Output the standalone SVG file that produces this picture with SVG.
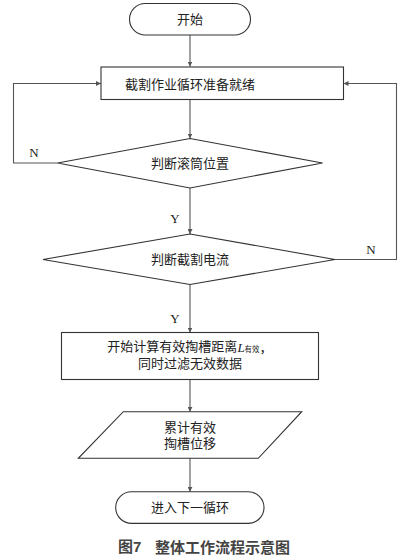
<svg xmlns="http://www.w3.org/2000/svg" width="409" height="560" viewBox="0 0 409 560">
<style>
.s{fill:#fff;stroke:#333;stroke-width:1.1}
.c{fill:none;stroke:#555;stroke-width:1.1}
.t{font-family:"Liberation Serif","Noto Sans CJK SC",serif;font-size:13px;fill:#222;text-anchor:middle;dominant-baseline:central}
.l{font-family:"Liberation Serif",serif;font-size:13px;fill:#222;text-anchor:middle;dominant-baseline:central}
.cap{font-family:"Liberation Sans","Noto Sans CJK SC",sans-serif;font-size:15px;font-weight:bold;fill:#444;dominant-baseline:central}
</style>
<defs>
<marker id="a" viewBox="0 0 6 6" refX="6" refY="3" markerWidth="5" markerHeight="5" markerUnits="userSpaceOnUse" orient="auto">
<path d="M0,0 L6,3 L0,6 Z" fill="#555"/>
</marker>
</defs>
<rect width="409" height="560" fill="#fff"/>
<g id="connectors">
<line class="c" x1="190" y1="35" x2="190" y2="66.5" marker-end="url(#a)"/>
<line class="c" x1="190" y1="99.5" x2="190" y2="138.5" marker-end="url(#a)"/>
<polyline class="c" points="57.5,163 13.5,163 13.5,83.5 101,83.5" marker-end="url(#a)"/>
<line class="c" x1="190" y1="188" x2="190" y2="234" marker-end="url(#a)"/>
<polyline class="c" points="335,259.5 396.5,259.5 396.5,83.5 343.5,83.5" marker-end="url(#a)"/>
<line class="c" x1="190" y1="284.5" x2="190" y2="332.5" marker-end="url(#a)"/>
<line class="c" x1="190" y1="379.5" x2="190" y2="411.7" marker-end="url(#a)"/>
<line class="c" x1="190" y1="458.3" x2="190" y2="491.7" marker-end="url(#a)"/>
<text class="l" x="34" y="152">N</text>
<text class="l" x="175" y="218">Y</text>
<text class="l" x="371" y="249">N</text>
<text class="l" x="175" y="318.5">Y</text>
</g>
<g id="start">
<rect class="s" x="129.5" y="3.5" width="121" height="31.5" rx="15.75"/>
<text class="t" x="190" y="19.5">开始</text>
</g>
<g id="ready">
<rect class="s" x="101" y="67" width="242.5" height="32.5"/>
<text class="t" x="190" y="84">截割作业循环准备就绪</text>
</g>
<g id="drum">
<polygon class="s" points="190,138.5 322.5,163 190,188 57.5,163"/>
<text class="t" x="190" y="163">判断滚筒位置</text>
</g>
<g id="current">
<polygon class="s" points="190,234 335,259.5 190,284.5 43,259.5"/>
<text class="t" x="190" y="259.5">判断截割电流</text>
</g>
<g id="compute">
<rect class="s" x="61.5" y="332.5" width="257" height="47"/>
<text class="t" x="190" y="346.5">开始计算有效掏槽距离<tspan font-style="italic">L</tspan><tspan font-size="7.5px" dy="2">有效</tspan><tspan dy="-2">，</tspan></text>
<text class="t" x="190" y="363">同时过滤无效数据</text>
</g>
<g id="accumulate">
<polygon class="s" points="123.3,411.7 301.7,411.7 258.3,458.3 78.3,458.3"/>
<text class="t" x="190" y="427">累计有效</text>
<text class="t" x="190" y="443">掏槽位移</text>
</g>
<g id="next">
<rect class="s" x="115.7" y="491.7" width="148.3" height="31.7" rx="15.85"/>
<text class="t" x="190" y="507.7">进入下一循环</text>
</g>
<text class="cap" x="118" y="546.5">图7<tspan x="155">整体工作流程示意图</tspan></text>
</svg>
